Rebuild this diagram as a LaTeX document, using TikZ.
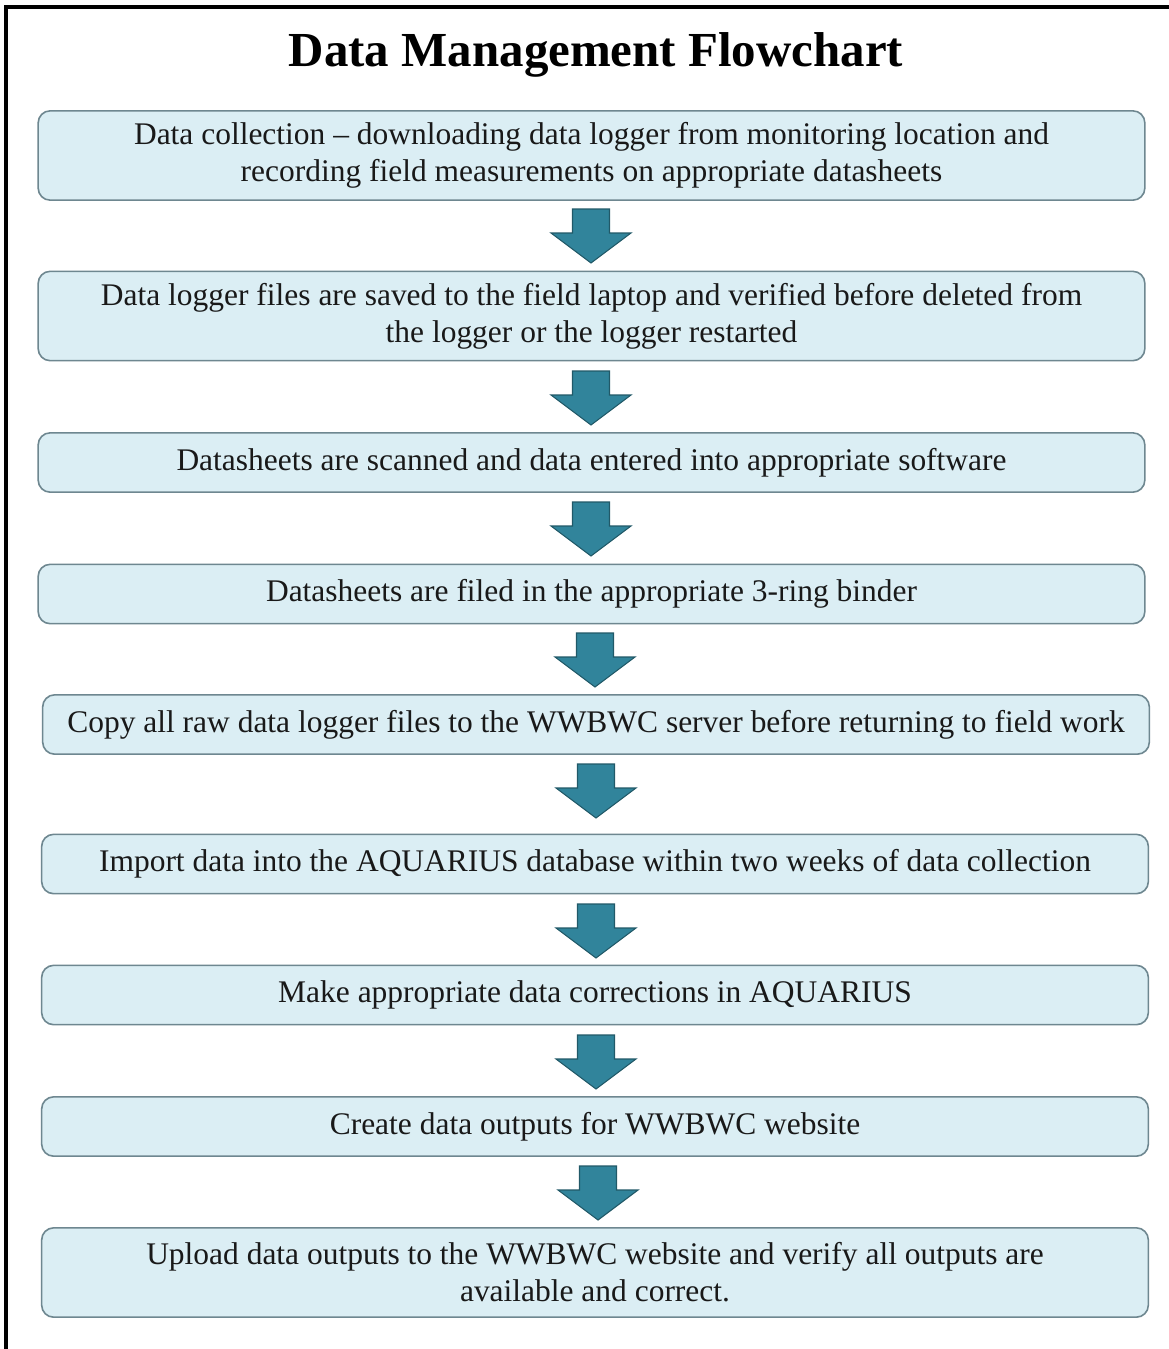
\documentclass[tikz,border=0pt]{standalone}
\usepackage{fontspec}
\setmainfont{Liberation Serif}
\definecolor{boxfill}{HTML}{DBEEF4}
\definecolor{boxline}{HTML}{6E8790}
\definecolor{arrfill}{HTML}{31849B}
\definecolor{arrline}{HTML}{215968}
\tikzset{
  stepbox/.style={draw=boxline, line width=1.2pt, fill=boxfill, rounded corners=9pt,
    inner sep=0pt, align=center, text=black!90, anchor=center,
    font=\fontsize{23.6pt}{27.75pt}\selectfont},
  wide/.style={minimum width=830pt},
  tall/.style={minimum height=67pt},
  short/.style={minimum height=44.5pt},
  blockarrow/.style={draw=arrline, line width=0.8pt, fill=arrfill}
}
\newcommand{\downblock}[2]{%
  \draw[blockarrow, shift={(#1,#2)}] (-18.5,0) -- (18.5,0) -- (18.5,24) -- (40,24) -- (0,54) -- (-40,24) -- (-18.5,24) -- cycle;}
\begin{document}
\begin{tikzpicture}[x=0.75pt, y=-0.75pt]
\useasboundingbox (0,0) rectangle (1169,1349);
\fill[white] (0,0) rectangle (1169,1349);
\draw[line width=2.4pt] (6,1352) -- (6,7) -- (1172,7);
\node[font=\bfseries\fontsize{36.7pt}{40pt}\selectfont] (title) at (596,55) {Data Management Flowchart};

\node[stepbox, wide, tall] (b1) at (591.5,155.5) {Data collection – downloading data logger from monitoring location and\\recording field measurements on appropriate datasheets};
\node[stepbox, wide, tall] (b2) at (591.5,316) {Data logger files are saved to the field laptop and verified before deleted from\\the logger or the logger restarted};
\node[stepbox, wide, short] (b3) at (591.5,462.5) {Datasheets are scanned and data entered into appropriate software};
\node[stepbox, wide, short] (b4) at (591.5,594) {Datasheets are filed in the appropriate 3-ring binder};
\node[stepbox, wide, short] (b5) at (596,724.5) {Copy all raw data logger files to the WWBWC server before returning to field work};
\node[stepbox, wide, short] (b6) at (595,864) {Import data into the AQUARIUS database within two weeks of data collection};
\node[stepbox, wide, short] (b7) at (595,995) {Make appropriate data corrections in AQUARIUS};
\node[stepbox, wide, short] (b8) at (595,1126.5) {Create data outputs for WWBWC website};
\node[stepbox, wide, tall] (b9) at (595,1272.5) {Upload data outputs to the WWBWC website and verify all outputs are\\available and correct.};

\downblock{591}{209}
\downblock{591}{371}
\downblock{591}{502}
\downblock{595}{633}
\downblock{596}{764}
\downblock{596}{904}
\downblock{596}{1035}
\downblock{598}{1166}
\end{tikzpicture}
\end{document}
